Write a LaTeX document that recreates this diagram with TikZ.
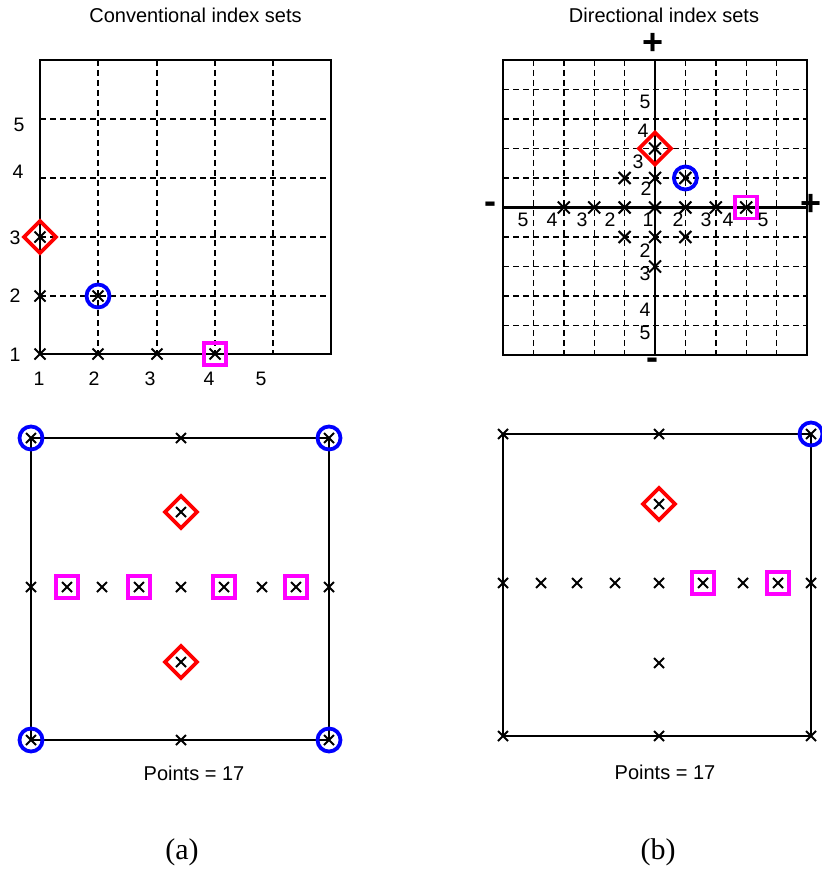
\documentclass[tikz,border=0pt]{standalone}
\usepackage{fontspec}
\setmainfont{Liberation Sans}
\newfontfamily\capfont{Liberation Serif}
\definecolor{mred}{RGB}{255,0,0}
\definecolor{mblue}{RGB}{0,0,255}
\definecolor{mmag}{RGB}{255,0,255}
\begin{document}
\begin{tikzpicture}[x=1pt,y=-1pt,
  frame/.style={line width=2.3pt},
  axisline/.style={line width=2.6pt},
  gridline/.style={line width=1.4pt, dash pattern=on 6pt off 4pt},
  xmk/.style={line width=2pt},
  mcirc/.style={draw=mblue, line width=3.8pt},
  mdiam/.style={draw=mred, line width=3.8pt},
  msq/.style={draw=mmag, line width=3.8pt},
  num/.style={inner sep=0pt, font=\fontsize{19.5}{21}\selectfont},
  ttl/.style={inner sep=0pt, font=\fontsize{20}{22}\selectfont},
  sgn/.style={inner sep=0pt, font=\fontsize{36}{38}\selectfont\bfseries},
  captxt/.style={inner sep=0pt, font=\capfont\fontsize{30}{32}\selectfont}]
\useasboundingbox (0,0) rectangle (821,869);
\fill[white] (0,0) rectangle (821,869);
% helpers
\def\cross#1#2{\draw[xmk] (#1) +(-#2,-#2) -- +(#2,#2) +(-#2,#2) -- +(#2,-#2);}
\def\circm#1{\draw[mcirc] (#1) circle (11.5pt);}
\def\diam#1{\draw[mdiam] (#1) +(-16,0) -- +(0,-16) -- +(16,0) -- +(0,16) -- cycle;}
\def\sqm#1{\draw[msq] (#1) +(-11,-11) rectangle +(11,11);}

%================ (a) top: conventional =================
\node[ttl] (ta) at (195.5,15) {Conventional index sets};
\foreach \x in {98,157,215,273} \draw[gridline] (\x,60) -- (\x,354);
\foreach \y in {119,178,237,296} \draw[gridline] (40,\y) -- (331,\y);
\draw[frame] (40,60) rectangle (331,354);
\foreach \x/\l [count=\k] in {39/1,94/2,150/3,209/4,261/5}
  \node[num] (ax\k) at (\x,379) {\l};
\foreach \x/\y/\l [count=\k] in {15/355/1,15/296/2,15/238/3,18/172/4,19/125/5}
  \node[num] (ay\k) at (\x,\y) {\l};
\coordinate (a11) at (40,354); \coordinate (a21) at (98,354);
\coordinate (a31) at (157,354); \coordinate (a41) at (215,354);
\coordinate (a12) at (40,296); \coordinate (a22) at (98,296);
\coordinate (a13) at (40,237);
\circm{a22} \diam{a13} \sqm{a41}
\foreach \p in {a11,a21,a31,a41,a12,a22,a13} {\cross{\p}{5.5}}

%================ (b) top: directional =================
\node[ttl] (tb) at (664,15) {Directional index sets};
\foreach \k in {1,2,3,4,6,7,8,9} {
  \draw[gridline] ({503+30.4*\k},60) -- ({503+30.4*\k},355);
  \draw[gridline] (503,{60+29.5*\k}) -- (807,{60+29.5*\k});
}
\draw[axisline] (503,207.5) -- (807,207.5);
\draw[axisline] (655,60) -- (655,355);
\draw[frame] (503,60) rectangle (807,355);
\foreach \x/\l [count=\k] in {523/5,552/4,582/3,610/2,648/1,678/2,706/3,728/4,763/5}
  \node[num] (bx\k) at (\x,220) {\l};
\foreach \x/\y/\l [count=\k] in {645/102/5,643/131/4,638/162/3,646/189/2,645/251/2,645/274/3,645/310/4,645/333/5}
  \node[num] (by\k) at (\x,\y) {\l};
\node[sgn] (pt) at (653,44) {+};
\node[sgn] (ml) at (490,208) {-};
\node[sgn] (pr) at (811,205) {+};
\node[sgn] (mb) at (652,364) {-};
\foreach \i/\j [count=\k] in {0/0,-1/0,-2/0,-3/0,1/0,2/0,3/0,0/1,0/2,-1/1,1/1,0/-1,0/-2,-1/-1,1/-1}
  \coordinate (d\k) at ({655+30.4*\i},{207.5-29.5*\j});
\circm{d11} \diam{d9} \sqm{d7}
\foreach \k in {1,...,15} {\cross{d\k}{6}}

%================ (a) bottom =================
\draw[frame] (31,438) rectangle (329,740);
\coordinate (c1) at (31,438); \coordinate (c2) at (329,438);
\coordinate (c3) at (31,740); \coordinate (c4) at (329,740);
\coordinate (c5) at (181,438); \coordinate (c6) at (181,740);
\coordinate (c7) at (181,512); \coordinate (c8) at (181,662);
\foreach \x [count=\k from 9] in {31,67,102,139,181,224,262,296,329}
  \coordinate (c\k) at (\x,587);
\foreach \p in {c1,c2,c3,c4} {\circm{\p}}
\diam{c7} \diam{c8}
\foreach \p in {c10,c12,c14,c16} {\sqm{\p}}
\foreach \k in {1,...,17} {\cross{c\k}{5}}
\node[ttl] (pa) at (194,773) {Points = 17};

%================ (b) bottom =================
\draw[frame] (503,434) rectangle (811,736);
\coordinate (e1) at (503,434); \coordinate (e2) at (811,434);
\coordinate (e3) at (503,736); \coordinate (e4) at (811,736);
\coordinate (e5) at (659,434); \coordinate (e6) at (659,736);
\coordinate (e7) at (659,504); \coordinate (e8) at (659,663);
\foreach \x [count=\k from 9] in {503,541,577,615,659,703,743,778,811}
  \coordinate (e\k) at (\x,583);
\circm{e2} \diam{e7}
\sqm{e14} \sqm{e16}
\foreach \k in {1,...,17} {\cross{e\k}{5}}
\node[ttl] (pb) at (665,772) {Points = 17};

%================ captions =================
\node[captxt] (capa) at (182,852) {(a)};
\node[captxt] (capb) at (658,852) {(b)};
\end{tikzpicture}
\end{document}
